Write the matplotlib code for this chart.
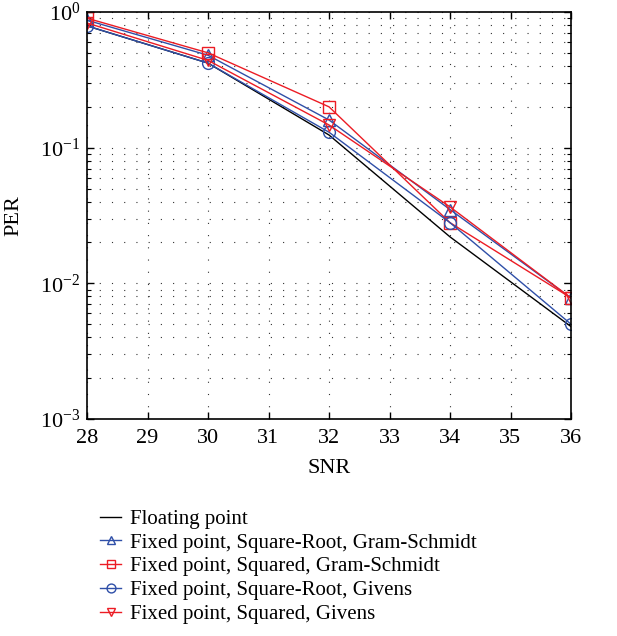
import numpy as np
import matplotlib
matplotlib.use('Agg')
import matplotlib.pyplot as plt
from matplotlib.ticker import LogLocator, NullFormatter

snr = [28, 30, 32, 34, 36]
per_float = [0.79, 0.42, 0.124, 0.022, 0.0048]
per_sqrt_gs = [0.87, 0.48, 0.16, 0.035, 0.0078]
per_sq_gs = [0.90, 0.50, 0.20, 0.028, 0.0078]
per_sqrt_giv = [0.79, 0.42, 0.13, 0.028, 0.005]
per_sq_giv = [0.83, 0.44, 0.147, 0.0366, 0.0078]

labels = ['Floating point',
          'Fixed point, Square-Root, Gram-Schmidt',
          'Fixed point, Squared, Gram-Schmidt',
          'Fixed point, Square-Root, Givens',
          'Fixed point, Squared, Givens']

blue = '#2f4fa8'
red = '#ec1c24'

plt.rcParams['font.family'] = ['Liberation Serif', 'DejaVu Serif']
plt.rcParams['mathtext.fontset'] = 'stix'
plt.rcParams['font.size'] = 15

fig = plt.figure(figsize=(6.17, 6.36), dpi=100)
ax = fig.add_axes([87/617, 1 - 419/636, (571-87)/617, (419-12)/636])

ms = 8.5
lw = 1.0
ax.plot(snr, per_float, color='black', lw=lw, label=labels[0])
ax.plot(snr, per_sqrt_gs, color=blue, lw=lw, marker='^', ms=ms, mfc='none', mew=1.0, label=labels[1])
ax.plot(snr, per_sq_gs, color=red, lw=lw, marker='s', ms=ms, mfc='none', mew=1.0, label=labels[2])
ax.plot(snr, per_sqrt_giv, color=blue, lw=lw, marker='o', ms=ms, mfc='none', mew=1.0, label=labels[3])
ax.plot(snr, per_sq_giv, color=red, lw=lw, marker='v', ms=ms, mfc='none', mew=1.0, label=labels[4])

ax.set_yscale('log')
ax.set_ylim(1e-3, 1)
ax.set_xlim(28, 36)
ax.set_xticks(range(28, 37))
ax.yaxis.set_major_locator(LogLocator(base=10, numticks=10))
ax.yaxis.set_minor_locator(LogLocator(base=10, subs=np.arange(2, 10), numticks=10))
ax.yaxis.set_minor_formatter(NullFormatter())
ax.tick_params(which='both', direction='in', top=True, right=True, labelsize=16)
ax.tick_params(axis='x', which='major', pad=7)
ax.tick_params(axis='y', which='major', pad=5)
ax.tick_params(which='major', length=5, width=1)
ax.tick_params(which='minor', length=3, width=0.8)
for s in ax.spines.values():
    s.set_linewidth(1.2)

ax.grid(True, which='major', color='#333333', ls=(0, (1, 10)), lw=0.8)
ax.grid(True, which='minor', axis='y', color='#333333', ls=(0, (1, 10)), lw=0.8)

ax.set_xlabel('SNR', fontsize=16, labelpad=8)
ax.set_ylabel('PER', fontsize=16, labelpad=12)

handles, labs = ax.get_legend_handles_labels()
fig.legend(handles, labs, loc='upper left', bbox_to_anchor=(92/617, 1 - 501/636),
           frameon=False, fontsize=15, handlelength=1.0, handletextpad=0.4,
           labelspacing=0.2, markerscale=0.75, borderaxespad=0)

fig.savefig('out.png', dpi=100)
